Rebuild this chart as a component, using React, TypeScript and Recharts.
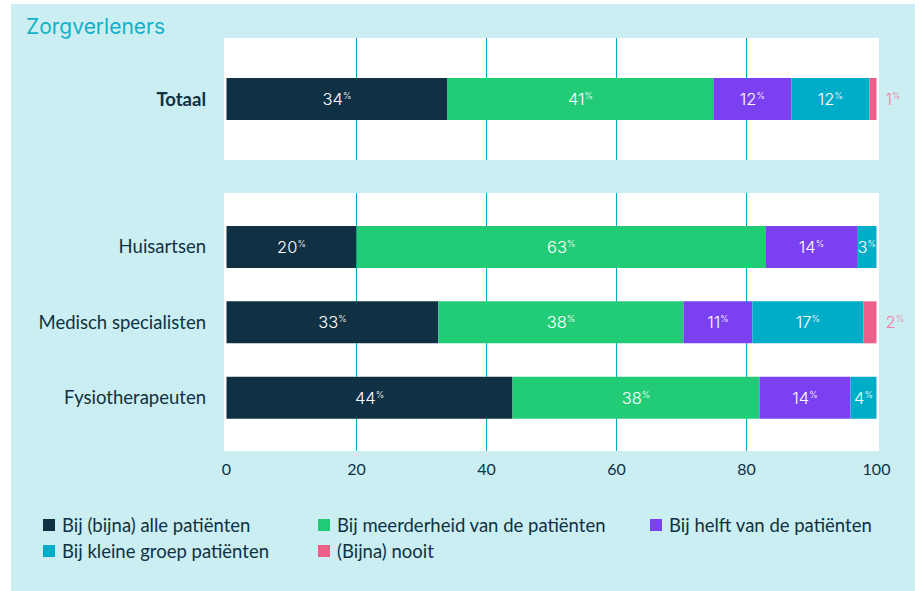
import React from 'react';
import { BarChart, Bar, XAxis, YAxis, CartesianGrid, LabelList } from 'recharts';

const groups = ['Totaal', 'Huisartsen', 'Medisch specialisten', 'Fysiotherapeuten'];
const alle = [34, 20, 32.6, 44];
const meerderheid = [40.9, 63, 37.7, 38];
const helft = [12, 14, 10.6, 14];
const kleineGroep = [12, 3, 17.1, 4];
const nooit = [1.1, 0, 2, 0];

const xTicks = [0, 20, 40, 60, 80, 100];
const gridValues = [20, 40, 60, 80];

const series = [
  { key: 'alle', name: 'Bij (bijna) alle patiënten', color: '#0f3143' },
  { key: 'meerderheid', name: 'Bij meerderheid van de patiënten', color: '#22cc77' },
  { key: 'helft', name: 'Bij helft van de patiënten', color: '#7b40f0' },
  { key: 'kleineGroep', name: 'Bij kleine groep patiënten', color: '#00adc8' },
  { key: 'nooit', name: '(Bijna) nooit', color: '#ec5f88' },
];

const rows = groups.map((group, i) => ({
  group,
  alle: alle[i],
  meerderheid: meerderheid[i],
  helft: helft[i],
  kleineGroep: kleineGroep[i],
  nooit: nooit[i],
}));

const BG = '#cbeef2';
const INK = '#0f3143';
const LABEL_FONT = 'Inter, "Noto Sans", sans-serif';
const TEXT_FONT = 'Lato, "Noto Sans", sans-serif';

const makeLabel = (outside: boolean) => (props: any) => {
  const { x, y, width, height, value } = props;
  if (!value) return null;
  const cx = outside ? x + width + 9 : x + width / 2;
  return (
    <text
      x={cx}
      y={y + height / 2}
      dy="0.36em"
      textAnchor={outside ? 'start' : 'middle'}
      fill={outside ? '#ee7fa0' : '#ffffff'}
      fontFamily={LABEL_FONT}
      fontSize={16.5}
      fontWeight={300}
    >
      {Math.round(value)}
      <tspan fontSize={9} dy={-6}>%</tspan>
    </text>
  );
};

const CategoryTick = (props: any) => {
  const { x, y, payload } = props;
  const bold = payload.value === 'Totaal';
  return (
    <text
      x={x}
      y={y}
      dy="0.36em"
      textAnchor="end"
      fill={INK}
      fontFamily={TEXT_FONT}
      fontSize={18.5}
      fontWeight={bold ? 700 : 400}
    >
      {payload.value}
    </text>
  );
};

const renderBars = () =>
  series.map((s) => (
    <Bar key={s.key} dataKey={s.key} name={s.name} stackId="a" fill={s.color} barSize={42} isAnimationActive={false}>
      <LabelList dataKey={s.key} content={makeLabel(s.key === 'nooit')} />
    </Bar>
  ));

const Panel = ({ data, height, margin, showAxis, yPadding }: any) => (
  <BarChart width={904} height={height} data={data} layout="vertical" margin={margin}>
    <CartesianGrid horizontal={false} vertical verticalValues={gridValues} stroke="#00adc8" fill="#ffffff" fillOpacity={1} />
    <XAxis
      type="number"
      domain={[0, 100]}
      ticks={xTicks}
      hide={!showAxis}
      padding={{ left: 2.5, right: 2.5 }}
      axisLine={false}
      tickLine={false}
      tickSize={6}
      tickMargin={7}
      height={30}
      tick={{ fill: INK, fontSize: 16, fontFamily: TEXT_FONT }}
    />
    <YAxis
      type="category"
      dataKey="group"
      width={213}
      axisLine={false}
      tickLine={false}
      tickSize={6}
      tickMargin={12}
      padding={yPadding}
      tick={<CategoryTick />}
    />
    {renderBars()}
  </BarChart>
);

export default function App() {
  return (
    <div style={{ position: 'absolute', left: 11, top: 4, width: 904, height: 587, background: BG }}>
      <div
        style={{
          position: 'absolute',
          left: 15,
          top: 10,
          fontFamily: LABEL_FONT,
          fontSize: 21,
          fontWeight: 400,
          color: '#12b1c8',
          lineHeight: '26px',
        }}
      >
        Zorgverleners
      </div>
      <div style={{ position: 'absolute', left: 0, top: 0 }}>
        <Panel data={rows.slice(0, 1)} height={156} margin={{ top: 34, right: 36, bottom: 0, left: 0 }} showAxis={false} />
      </div>
      <div style={{ position: 'absolute', left: 0, top: 156 }}>
        <Panel
          data={rows.slice(1)}
          height={321}
          margin={{ top: 33, right: 36, bottom: 0, left: 0 }}
          showAxis
          yPadding={{ top: 16, bottom: 16 }}
        />
      </div>
      <div
        style={{
          position: 'absolute',
          left: 32,
          top: 510,
          display: 'grid',
          gridTemplateColumns: '275px 332px 270px',
          rowGap: 5,
          fontFamily: TEXT_FONT,
          fontSize: 18.5,
          color: INK,
        }}
      >
        {series.map((s) => (
          <div key={s.key} style={{ display: 'flex', alignItems: 'center', height: 21 }}>
            <span style={{ width: 12, height: 12, background: s.color, marginRight: 7, display: 'inline-block', flex: 'none' }} />
            {s.name}
          </div>
        ))}
      </div>
    </div>
  );
}
